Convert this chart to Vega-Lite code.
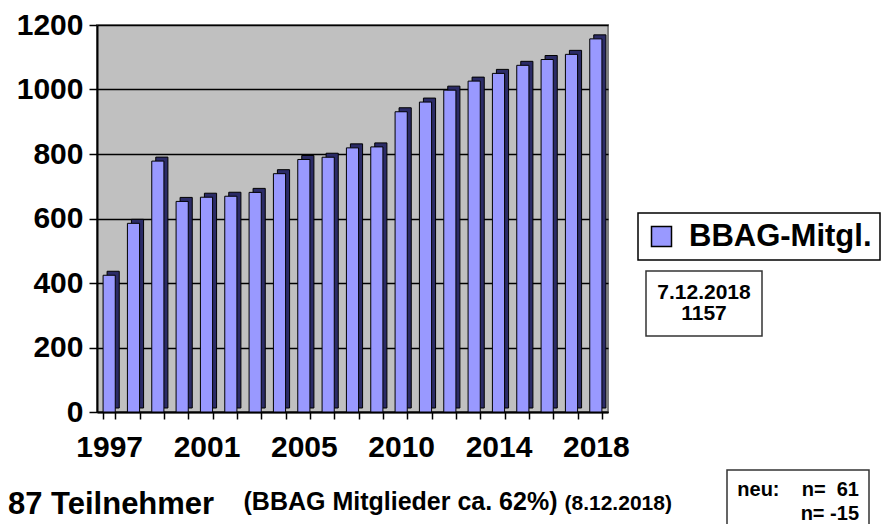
{
  "$schema": "https://vega.github.io/schema/vega-lite/v6.json",
  "width": 511,
  "height": 387,
  "autosize": {"type": "none"},
  "padding": {"left": 97, "top": 25, "right": 277, "bottom": 112},
  "background": "white",
  "title": {
    "text": "87 Teilnehmer",
    "orient": "top",
    "anchor": "start",
    "frame": "group",
    "font": "Liberation Sans",
    "fontSize": 31,
    "fontWeight": "bold",
    "color": "black",
    "baseline": "alphabetic",
    "offset": 0,
    "dx": -89,
    "dy": 535
  },
  "data": {
    "values": [
      {"year": "1997", "value": 424, "series": "BBAG-Mitgl."},
      {"year": "1998", "value": 585, "series": "BBAG-Mitgl."},
      {"year": "1999", "value": 778, "series": "BBAG-Mitgl."},
      {"year": "2000", "value": 653, "series": "BBAG-Mitgl."},
      {"year": "2001", "value": 666, "series": "BBAG-Mitgl."},
      {"year": "2002", "value": 669, "series": "BBAG-Mitgl."},
      {"year": "2003", "value": 681, "series": "BBAG-Mitgl."},
      {"year": "2004", "value": 739, "series": "BBAG-Mitgl."},
      {"year": "2005", "value": 783, "series": "BBAG-Mitgl."},
      {"year": "2006", "value": 790, "series": "BBAG-Mitgl."},
      {"year": "2007", "value": 819, "series": "BBAG-Mitgl."},
      {"year": "2008", "value": 822, "series": "BBAG-Mitgl."},
      {"year": "2010", "value": 931, "series": "BBAG-Mitgl."},
      {"year": "2011", "value": 961, "series": "BBAG-Mitgl."},
      {"year": "2012", "value": 998, "series": "BBAG-Mitgl."},
      {"year": "2013", "value": 1026, "series": "BBAG-Mitgl."},
      {"year": "2014", "value": 1050, "series": "BBAG-Mitgl."},
      {"year": "2015", "value": 1075, "series": "BBAG-Mitgl."},
      {"year": "2016", "value": 1093, "series": "BBAG-Mitgl."},
      {"year": "2017", "value": 1109, "series": "BBAG-Mitgl."},
      {"year": "2018", "value": 1157, "series": "BBAG-Mitgl."}
    ]
  },
  "encoding": {
    "x": {
      "field": "year",
      "type": "ordinal",
      "scale": {"paddingInner": 0.5, "paddingOuter": 0.25},
      "axis": {
        "title": "(BBAG Mitglieder ca. 62%)",
        "titleX": 146,
        "titleY": 97,
        "titleAlign": "left",
        "titleBaseline": "alphabetic",
        "titleAngle": 0,
        "titleFont": "Liberation Sans",
        "titleFontSize": 25,
        "titleFontWeight": "bold",
        "titleColor": "black",
        "labelAngle": 0,
        "labelFont": "Liberation Sans",
        "labelFontSize": 30,
        "labelFontWeight": "bold",
        "labelColor": "black",
        "labelOverlap": false,
        "labelExpr": "indexof(['1997','2001','2005','2010','2014','2018'], datum.label) >= 0 ? datum.label : ''",
        "labelPadding": 13,
        "tickBand": "extent",
        "tickSize": 7,
        "tickColor": "black",
        "tickWidth": 1.5,
        "domainColor": "black",
        "domainWidth": 2,
        "grid": false
      }
    },
    "y": {
      "field": "value",
      "type": "quantitative",
      "scale": {"domain": [0, 1200], "nice": false},
      "axis": {
        "values": [0, 200, 400, 600, 800, 1000, 1200],
        "format": "d",
        "title": "(8.12.2018)",
        "titleX": 467,
        "titleY": 484,
        "titleAngle": 0,
        "titleAlign": "left",
        "titleBaseline": "alphabetic",
        "titleFont": "Liberation Sans",
        "titleFontSize": 21,
        "titleFontWeight": "bold",
        "titleColor": "black",
        "labelFont": "Liberation Sans",
        "labelFontSize": 30,
        "labelFontWeight": "bold",
        "labelColor": "black",
        "labelPadding": 6,
        "tickSize": 8,
        "tickColor": "black",
        "tickWidth": 1.5,
        "domainColor": "black",
        "domainWidth": 2,
        "grid": true,
        "gridColor": "black",
        "gridWidth": 1.5,
        "gridOpacity": 1
      }
    }
  },
  "layer": [
    {
      "mark": {"type": "bar", "fill": "#2b2b66", "stroke": "black", "strokeWidth": 1, "xOffset": 4, "yOffset": -4}
    },
    {
      "mark": {"type": "bar", "stroke": "black"},
      "encoding": {
        "color": {
          "field": "series",
          "type": "nominal",
          "scale": {"range": ["#9999FF"]},
          "legend": {
            "title": null,
            "orient": "none",
            "legendX": 541,
            "legendY": 188,
            "symbolType": "square",
            "symbolSize": 400,
            "symbolStrokeColor": "black",
            "symbolStrokeWidth": 1.5,
            "labelFont": "Liberation Sans",
            "labelFontSize": 31,
            "labelFontWeight": "bold",
            "labelColor": "black",
            "labelOffset": 12,
            "labelLimit": 500,
            "padding": 8,
            "strokeColor": "black",
            "fillColor": "white"
          }
        },
        "opacity": {
          "datum": "n1",
          "type": "ordinal",
          "scale": {"range": [1]},
          "legend": {
            "title": ["7.12.2018", "1157"],
            "orient": "none",
            "legendX": 549,
            "legendY": 246,
            "titleFont": "Liberation Sans",
            "titleFontSize": 21,
            "titleFontWeight": "bold",
            "titleColor": "black",
            "titleAlign": "center",
            "titleAnchor": "middle",
            "titleLineHeight": 21,
            "titlePadding": 0,
            "titleLimit": 500,
            "symbolSize": 0,
            "symbolOpacity": 0,
            "symbolStrokeWidth": 0,
            "labelExpr": "''",
            "labelFontSize": 1,
            "padding": 11,
            "strokeColor": "#333333",
            "fillColor": "white"
          }
        },
        "strokeWidth": {
          "datum": "n2",
          "type": "ordinal",
          "scale": {"range": [1]},
          "legend": {
            "title": ["neu:\u00a0\u00a0\u00a0\u00a0n=\u00a0\u00a061", "n=\u00a0-15"],
            "orient": "none",
            "legendX": 630,
            "legendY": 445,
            "titleFont": "Liberation Sans",
            "titleFontSize": 20,
            "titleFontWeight": "bold",
            "titleColor": "black",
            "titleAlign": "right",
            "titleAnchor": "end",
            "titleLineHeight": 24,
            "titlePadding": 0,
            "titleLimit": 500,
            "symbolSize": 0,
            "symbolOpacity": 0,
            "symbolStrokeWidth": 0,
            "labelExpr": "''",
            "labelFontSize": 1,
            "padding": 10,
            "strokeColor": "#333333",
            "fillColor": "white"
          }
        }
      }
    }
  ],
  "config": {
    "view": {"fill": "#C0C0C0", "stroke": "#808080", "strokeWidth": 2},
    "legend": {"strokeWidth": 1.5}
  }
}
